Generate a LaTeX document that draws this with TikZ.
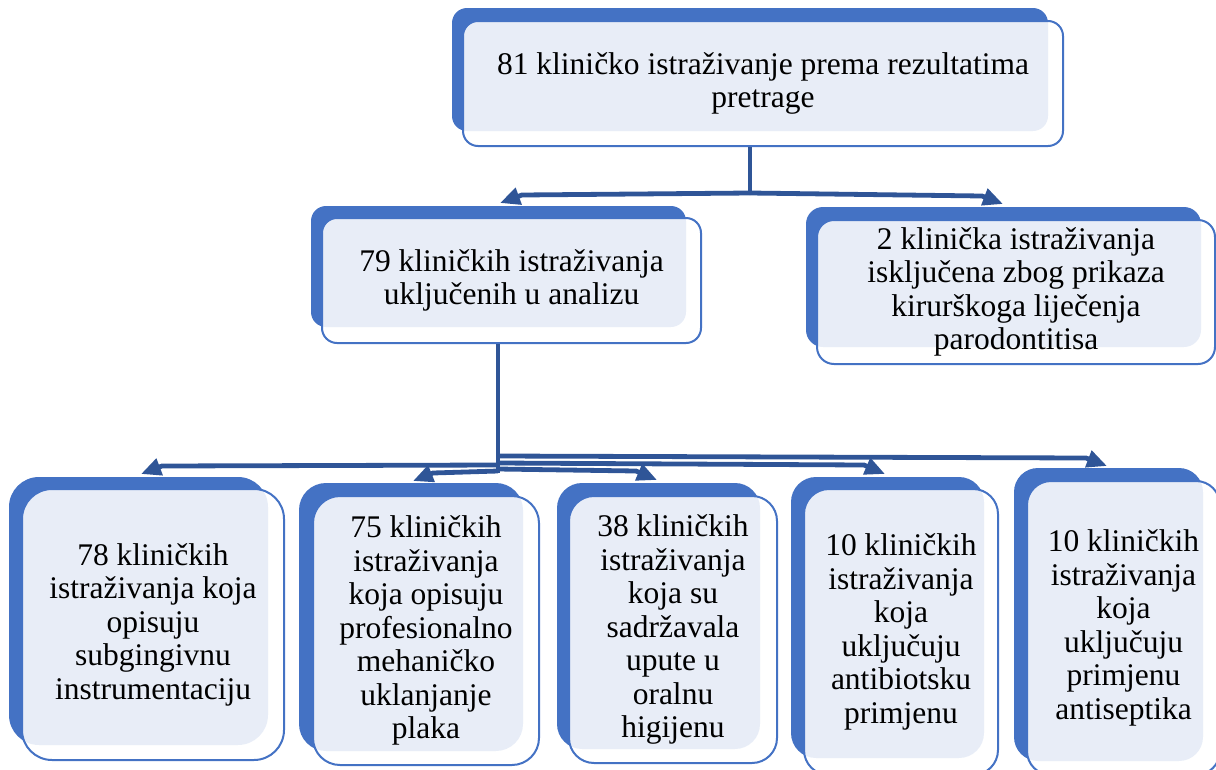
\documentclass[tikz,border=0pt]{standalone}
\usepackage{fontspec}
\setmainfont{Liberation Serif}
\usetikzlibrary{arrows.meta}
\definecolor{accent}{HTML}{4472C4}
\definecolor{conncol}{HTML}{2F5597}
\begin{document}
\begin{tikzpicture}[x=1pt,y=-1pt,
  back/.style={fill=accent},
  front/.style={draw=accent, line width=2pt, fill=white, fill opacity=0.88, text opacity=1,
    align=center, inner sep=0pt, font=\fontsize{31.5}{33.5}\selectfont},
  conn/.style={draw=conncol, line width=4.8pt},
  arr/.style={conn, -{Triangle[length=20pt,width=17pt]}}]
\useasboundingbox (0,0) rectangle (1216,769);

% top box
\fill[back, rounded corners=15pt] (452,8) rectangle (1048,131);
\node[front, rounded corners=15pt, minimum width=600pt, minimum height=125pt] (t) at (763,83.5)
  {81 kliničko istraživanje prema rezultatima\\pretrage};

% middle left
\fill[back, rounded corners=15pt] (311,206) rectangle (686,327);
\node[front, rounded corners=15pt, minimum width=379pt, minimum height=125pt] (ml) at (511.5,280.5)
  {79 kliničkih istraživanja\\uključenih u analizu};

% middle right
\fill[back, rounded corners=17pt] (806,207) rectangle (1201,347);
\node[front, rounded corners=17pt, minimum width=398pt, minimum height=144pt] (mr) at (1016,292)
  {2 klinička istraživanja\\isključena zbog prikaza\\kirurškoga liječenja\\parodontitisa};

% bottom boxes
\fill[back, rounded corners=30pt] (9,477) rectangle (268,745);
\node[front, rounded corners=30pt, minimum width=262pt, minimum height=271pt] (b1) at (153,624.5)
  {78 kliničkih\\istraživanja koja\\opisuju\\subgingivnu\\instrumentaciju};

\fill[back, rounded corners=27pt] (299,483) rectangle (523,751);
\node[front, rounded corners=27pt, minimum width=226pt, minimum height=269pt] (b2) at (426,630.5)
  {75 kliničkih\\istraživanja\\koja opisuju\\profesionalno\\mehaničko\\uklanjanje\\plaka};

\fill[back, rounded corners=25pt] (557,483) rectangle (760,749);
\node[front, rounded corners=25pt, minimum width=208pt, minimum height=267pt] (b3) at (673,629.5)
  {38 kliničkih\\istraživanja\\koja su\\sadržavala\\upute u\\oralnu\\higijenu};

\fill[back, rounded corners=25pt] (791,477) rectangle (984,758);
\node[front, rounded corners=25pt, minimum width=194pt, minimum height=286pt] (b4) at (901,632)
  {10 kliničkih\\istraživanja\\koja\\uključuju\\antibiotsku\\primjenu};

\fill[back, rounded corners=24pt] (1014,468) rectangle (1203,761);
\node[front, rounded corners=24pt, minimum width=193pt, minimum height=294pt] (b5) at (1123.5,628)
  {10 kliničkih\\istraživanja\\koja\\uključuju\\primjenu\\antiseptika};

% connectors from top box
\coordinate (j1) at (750,193);
\coordinate (k1l) at (522,195);
\coordinate (a1l) at (500,203);
\coordinate (k1r) at (982,196);
\coordinate (a1r) at (1003,204);
\draw[conn] (t.south -| j1) -- (j1);
\draw[arr] (j1) -- (k1l) -- (a1l);
\draw[arr] (j1) -- (k1r) -- (a1r);

% connectors from middle left box
\coordinate (j2) at (498,473);
\draw[conn] (ml.south -| j2) -- (j2);
\coordinate (s5) at (498,456);
\coordinate (k5) at (1086,458);
\coordinate (a5) at (1107,466);
\coordinate (s4) at (498,463);
\coordinate (k4) at (864,465);
\coordinate (a4) at (885,474);
\coordinate (s3) at (498,469);
\coordinate (k3) at (636,471);
\coordinate (a3) at (657,480);
\coordinate (s1) at (498,465);
\coordinate (k1) at (162,466);
\coordinate (a1) at (141,474);
\coordinate (s2) at (498,471);
\coordinate (k2) at (433,473);
\coordinate (a2) at (413,481);
\draw[arr] (s5) -- (k5) -- (a5);
\draw[arr] (s4) -- (k4) -- (a4);
\draw[arr] (s3) -- (k3) -- (a3);
\draw[arr] (s1) -- (k1) -- (a1);
\draw[arr] (s2) -- (k2) -- (a2);
\end{tikzpicture}
\end{document}
